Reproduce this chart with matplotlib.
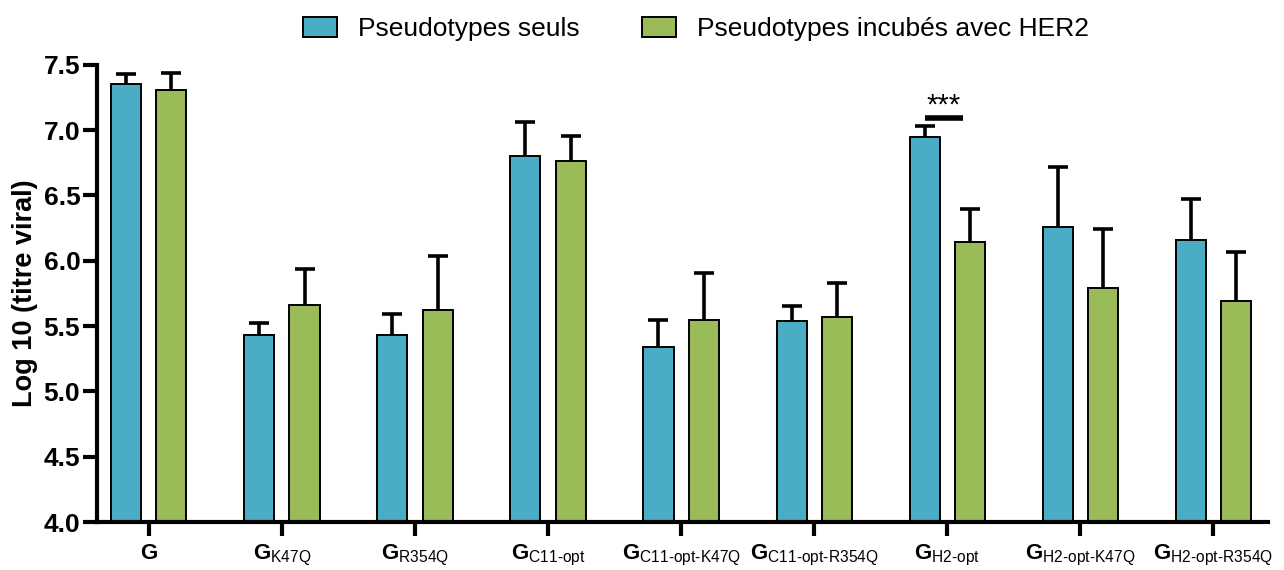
import numpy as np
import matplotlib
matplotlib.use("Agg")
import matplotlib.pyplot as plt

plt.rcParams["font.family"] = ["Liberation Sans", "DejaVu Sans"]
plt.rcParams["mathtext.fontset"] = "custom"
plt.rcParams["mathtext.rm"] = "Liberation Sans"
plt.rcParams["mathtext.bf"] = "Liberation Sans:bold"
plt.rcParams["mathtext.it"] = "Liberation Sans:italic"

# mutant names (subscripts of G) and mean log10 titres with upper SD
subscripts = ["", "K47Q", "R354Q", "C11-opt", "C11-opt-K47Q", "C11-opt-R354Q",
              "H2-opt", "H2-opt-K47Q", "H2-opt-R354Q"]
seuls = [7.35, 5.43, 5.43, 6.80, 5.34, 5.54, 6.95, 6.26, 6.16]
seuls_err = [0.08, 0.09, 0.16, 0.26, 0.21, 0.11, 0.08, 0.46, 0.31]
her2 = [7.31, 5.66, 5.62, 6.765, 5.55, 5.57, 6.14, 5.79, 5.69]
her2_err = [0.13, 0.28, 0.42, 0.19, 0.36, 0.26, 0.26, 0.45, 0.38]

labels = [r"$\mathbf{G}$" if s == "" else r"$\mathbf{G}_{\text{%s}}$" % s
          for s in subscripts]

fig = plt.figure(figsize=(12.84, 5.7), dpi=100)
ax = fig.add_axes([0.0755, 0.0842, 0.912, 0.802])

x = np.arange(len(subscripts))
w = 0.226
off = 0.17
ekw = dict(elinewidth=2.6, capthick=2.6, capsize=7, ecolor="black")

b1 = ax.bar(x - off, seuls, w, bottom=0, color="#4BACC6", edgecolor="black",
            linewidth=1.4, label="Pseudotypes seuls", zorder=2,
            yerr=[np.zeros(len(x)), seuls_err], error_kw=ekw)
b2 = ax.bar(x + off, her2, w, bottom=0, color="#9BBB59", edgecolor="black",
            linewidth=1.4, label="Pseudotypes incubés avec HER2", zorder=2,
            yerr=[np.zeros(len(x)), her2_err], error_kw=ekw)
# only the upper cap is wanted
for b in (b1, b2):
    b.errorbar.lines[1][0].set_visible(False)

# significance mark for G H2-opt
i = subscripts.index("H2-opt")
ax.plot([i - off, i + off - 0.05], [7.09, 7.09], color="black", lw=4,
        solid_capstyle="butt", clip_on=False)
ax.text(i - 0.03, 7.085, "***", ha="center", va="bottom", fontsize=21)

ax.set_ylim(4.0, 7.5)
ax.set_xlim(-0.39, 8.41)
ax.set_yticks(np.arange(4.0, 7.51, 0.5))
ax.set_yticklabels([f"{v:.1f}" for v in np.arange(4.0, 7.51, 0.5)],
                   fontsize=19, fontweight="bold")
ax.set_xticks(x)
ax.set_xticklabels(labels, fontsize=16)
ax.set_ylabel("Log 10 (titre viral)", fontsize=19.5, fontweight="bold", labelpad=4)

for s in ["top", "right"]:
    ax.spines[s].set_visible(False)
for s in ["left", "bottom"]:
    ax.spines[s].set_linewidth(3)
ax.tick_params(axis="both", width=3, length=10, direction="out")
ax.tick_params(axis="y", pad=2)
ax.tick_params(axis="x", pad=5)

ax.legend(loc="lower center", bbox_to_anchor=(0.5115, 1.0), ncol=2, frameon=False,
          fontsize=19, handlelength=1.29, handleheight=0.83, columnspacing=2.35,
          handletextpad=0.8)

fig.savefig("out.png", dpi=100)
